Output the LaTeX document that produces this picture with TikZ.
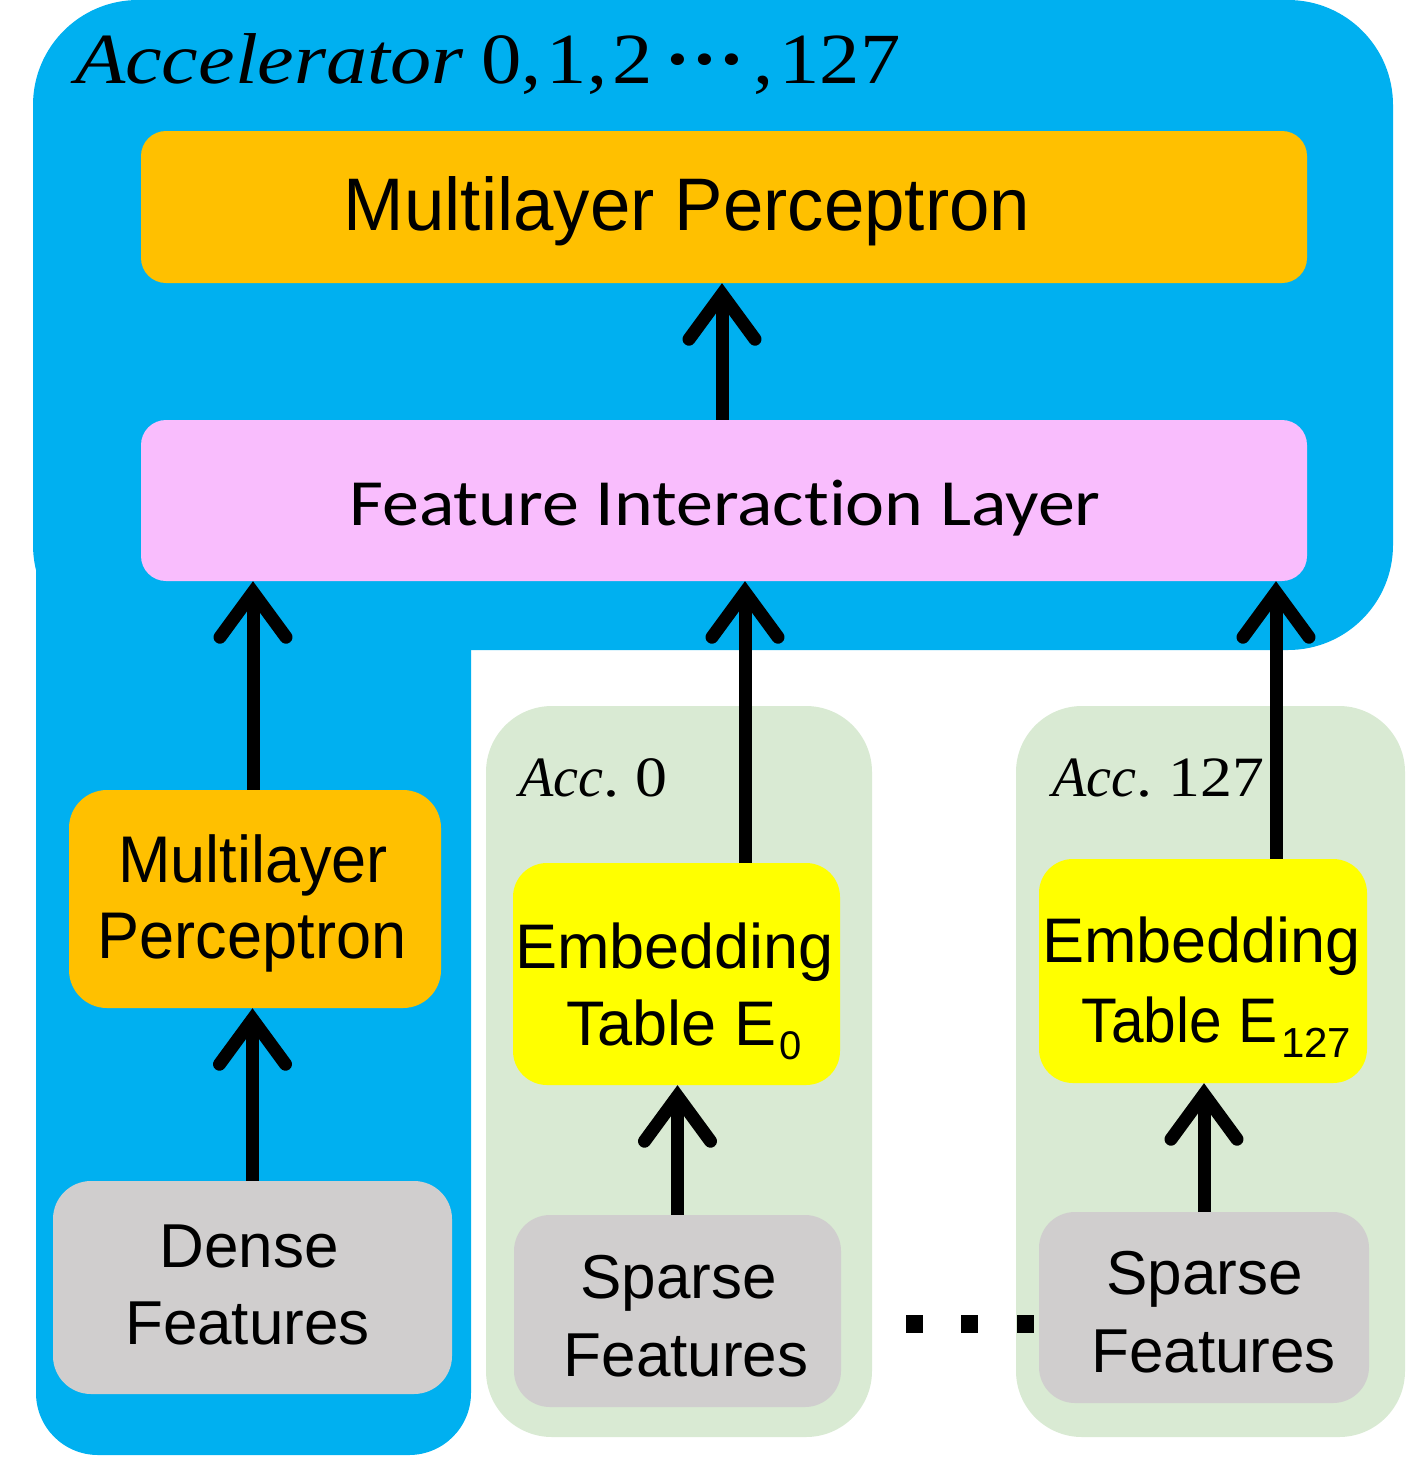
\documentclass[tikz,border=0pt]{standalone}
\usepackage{fontspec}
\usepackage{graphicx}
\setmainfont{Liberation Sans}
\newfontfamily\carl[Ligatures={NoCommon}]{Carlito}
\newfontfamily\cam[FakeStretch=1.12]{Liberation Serif}
\usetikzlibrary{arrows.meta}
\definecolor{accblue}{RGB}{0,176,240}
\definecolor{mlporange}{RGB}{255,192,0}
\definecolor{filpink}{RGB}{249,189,253}
\definecolor{accgreen}{RGB}{217,234,211}
\definecolor{featgray}{RGB}{208,206,206}
\definecolor{embyellow}{RGB}{255,255,0}
\newcommand\fsz[1]{\fontsize{#1}{#1}\selectfont}
\newcommand\hsc[2]{\scalebox{#1}[1]{#2}}
\begin{document}
\begin{tikzpicture}[x=1pt,y=-1pt,
  box/.style={rectangle, draw=none, fill=#1, inner sep=0pt},
  lbl/.style={anchor=base, inner sep=0pt, text=black},
  mlbl/.style={anchor=base west, inner sep=0pt, text=black},
  conn/.style={line width=13pt, black, -{Straight Barb[length=45pt, width=66pt, line cap=round, line join=miter]}}
]
\useasboundingbox (0,0) rectangle (1419,1470);
% accelerator region (blue L shape)
\fill[accblue, rounded corners=105pt] (33,0) rectangle (1393,650);
\fill[accblue, rounded corners=62pt] (36,300) rectangle (471,1455);
% per-accelerator regions
\node[box=accgreen, rounded corners=66pt, minimum width=386pt, minimum height=731pt] (acc0) at (679,1071.5) {};
\node[box=accgreen, rounded corners=66pt, minimum width=389pt, minimum height=731pt] (acc127) at (1210.5,1071.5) {};
% blocks
\node[box=mlporange, rounded corners=25pt, minimum width=1166pt, minimum height=152pt] (mlpTop) at (724,207) {};
\node[box=filpink, rounded corners=25pt, minimum width=1166pt, minimum height=161pt] (fil) at (724,500.5) {};
\node[box=mlporange, rounded corners=38pt, minimum width=372pt, minimum height=218pt] (mlpL) at (255,899) {};
\node[box=featgray, rounded corners=38pt, minimum width=399pt, minimum height=213pt] (dense) at (252.5,1287.5) {};
\node[box=embyellow, rounded corners=34pt, minimum width=327pt, minimum height=222pt] (emb0) at (676.5,974) {};
\node[box=featgray, rounded corners=36pt, minimum width=327pt, minimum height=192pt] (sparse0) at (677.5,1311) {};
\node[box=embyellow, rounded corners=34pt, minimum width=328pt, minimum height=224pt] (emb127) at (1203,971) {};
\node[box=featgray, rounded corners=36pt, minimum width=330pt, minimum height=191pt] (sparse127) at (1204,1307.5) {};
% connectors
\draw[conn] ([xshift=-2pt]fil.north) -- ([xshift=-2pt]mlpTop.south);
\draw[conn] ([xshift=-2pt]mlpL.north) -- ([xshift=-2pt]mlpL.north |- fil.south);
\draw[conn] (dense.north) -- (dense.north |- mlpL.south);
\draw[conn] (sparse0.north) -- (sparse0.north |- emb0.south);
\draw[conn] ([xshift=68.5pt]emb0.north) -- ([xshift=68.5pt]emb0.north |- fil.south);
\draw[conn] (sparse127.north) -- (sparse127.north |- emb127.south);
\draw[conn] ([xshift=73pt]emb127.north) -- ([xshift=73pt]emb127.north |- fil.south);
% texts
\node[lbl] (mlpTopT) at (687,230) {\fsz{74.5}\hsc{0.975}{Multilayer Perceptron}};
\node[lbl] (filT) at (725,525) {\carl\fsz{66}\hsc{1.12}{Feature Interaction Layer}};
\node[lbl] (mlpLa) at (253,882) {\fsz{66}\hsc{0.955}{Multilayer}};
\node[lbl] (mlpLb) at (252,958) {\fsz{66}\hsc{0.955}{Perceptron}};
\node[lbl] (denseA) at (249,1267) {\fsz{62}Dense};
\node[lbl] (denseB) at (247.5,1344) {\fsz{62}Features};
\node[lbl] (sp0a) at (678.5,1298) {\fsz{62}Sparse};
\node[lbl] (sp0b) at (686,1376) {\fsz{62}Features};
\node[lbl] (sp127a) at (1204.5,1294) {\fsz{62}Sparse};
\node[lbl] (sp127b) at (1213.5,1372) {\fsz{62}Features};
\node[lbl] (emb0a) at (674.5,968) {\fsz{63}Embedding};
\node[lbl] (emb0b) at (684,1045) {\fsz{63}Table E\hspace{3pt}\raisebox{-14pt}{\fsz{40}0}};
\node[lbl] (emb127a) at (1201.5,962) {\fsz{63}Embedding};
\node[lbl] (emb127b) at (1216.5,1042) {\fsz{63}\hsc{0.93}{Table E}\hspace{4pt}\raisebox{-15pt}{\fsz{42}127}};
% accelerator labels
\node[mlbl] (accT) at (75,83) {\cam\fsz{72}\itshape\hsc{1.02}{Accelerator}\hspace{18pt}\upshape 0,\hspace{5pt}1,\hspace{5pt}2\hspace{12pt}{\bfseries ···}\hspace{8pt},\hspace{6pt}127};
\node[mlbl] (acc0T) at (519,796) {\cam\fsz{57}\hsc{0.88}{\itshape Acc}.\hspace{16pt}0};
\node[mlbl] (acc127T) at (1052,796) {\cam\fsz{57}\hsc{0.88}{\itshape Acc}.\hspace{16pt}127};
% ellipsis between accelerators
\fill (906,1315) rectangle (923,1333);
\fill (961,1315) rectangle (978,1333);
\fill (1017,1315) rectangle (1034,1333);
\end{tikzpicture}
\end{document}
